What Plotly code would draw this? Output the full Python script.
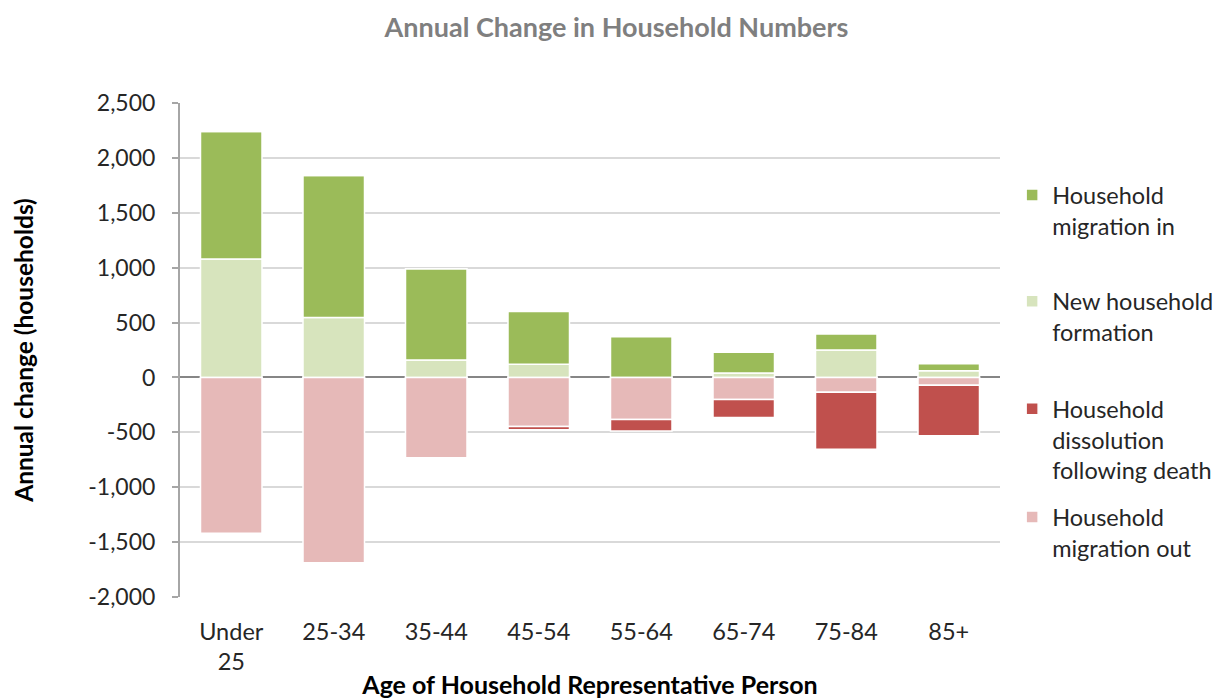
import plotly.graph_objects as go

categories = ["Under<br>25", "25-34", "35-44", "45-54", "55-64", "65-74", "75-84", "85+"]
new_formation = [1080, 545, 160, 120, 0, 40, 250, 60]
migration_in = [1160, 1295, 830, 480, 370, 190, 145, 65]
migration_out = [-1420, -1687, -732, -447, -382, -200, -135, -70]
dissolution = [0, 0, 0, -30, -105, -165, -520, -460]
y_tickvals = [2500, 2000, 1500, 1000, 500, 0, -500, -1000, -1500, -2000]
y_ticktext = ["2,500", "2,000", "1,500", "1,000", "500", "0", "-500", "-1,000", "-1,500", "-2,000"]

FONT = "Lato"
TXT = "#262626"

fig = go.Figure()
line = dict(color="white", width=1.5)
fig.add_trace(go.Bar(x=categories, y=new_formation, name="New household<br>formation",
                     marker=dict(color="#D7E4BD", line=line), legend="legend2"))
fig.add_trace(go.Bar(x=categories, y=migration_in, name="Household<br>migration in",
                     marker=dict(color="#9BBB59", line=line), legend="legend"))
fig.add_trace(go.Bar(x=categories, y=migration_out, name="Household<br>migration out",
                     marker=dict(color="#E6B9B8", line=line), legend="legend4"))
fig.add_trace(go.Bar(x=categories, y=dissolution, name="Household<br>dissolution<br>following death",
                     marker=dict(color="#C0504D", line=line), legend="legend3"))

leg_common = dict(x=1.0148, xanchor="left", yanchor="top", valign="top",
                  font=dict(family=FONT, size=23.5, color=TXT), bgcolor="rgba(0,0,0,0)",
                  visible=True)
fig.update_layout(
    width=1217, height=691,
    barmode="relative", bargap=0.4,
    showlegend=True,
    plot_bgcolor="white", paper_bgcolor="white",
    margin=dict(l=172, r=225, t=95, b=102, autoexpand=False),
    title=dict(text="<b>Annual Change in Household Numbers</b>", x=0.5, xanchor="center",
               y=0.971, yanchor="middle", font=dict(family=FONT, size=27, color="#7f7f7f")),
    legend=dict(y=0.858, **leg_common),
    legend2=dict(y=0.643, **leg_common),
    legend3=dict(y=0.425, **leg_common),
    legend4=dict(y=0.206, **leg_common),
    font=dict(family=FONT, size=22, color=TXT),
)
fig.update_yaxes(range=[-2000, 2500], tickvals=y_tickvals, ticktext=y_ticktext,
                 automargin=False,
                 showgrid=True, gridcolor="#d9d9d9", gridwidth=2,
                 zeroline=True, zerolinecolor="#868686", zerolinewidth=2,
                 showline=True, linecolor="#a6a6a6", linewidth=2,
                 ticks="outside", ticklen=6, tickcolor="#a6a6a6", tickwidth=2,
                 ticklabelstandoff=12,
                 tickfont=dict(family=FONT, size=23, color=TXT),
                 title=dict(text="<b>Annual change (households)</b>", standoff=48,
                            font=dict(family=FONT, size=24.5, color="black")))
fig.update_xaxes(showline=False, ticks="", ticklabelstandoff=18, automargin=False,
                 tickfont=dict(family=FONT, size=23.5, color=TXT),
                 title=dict(text="<b>Age of Household Representative Person</b>", standoff=12,
                            font=dict(family=FONT, size=25, color="black")))

fig.write_html("out.html")
